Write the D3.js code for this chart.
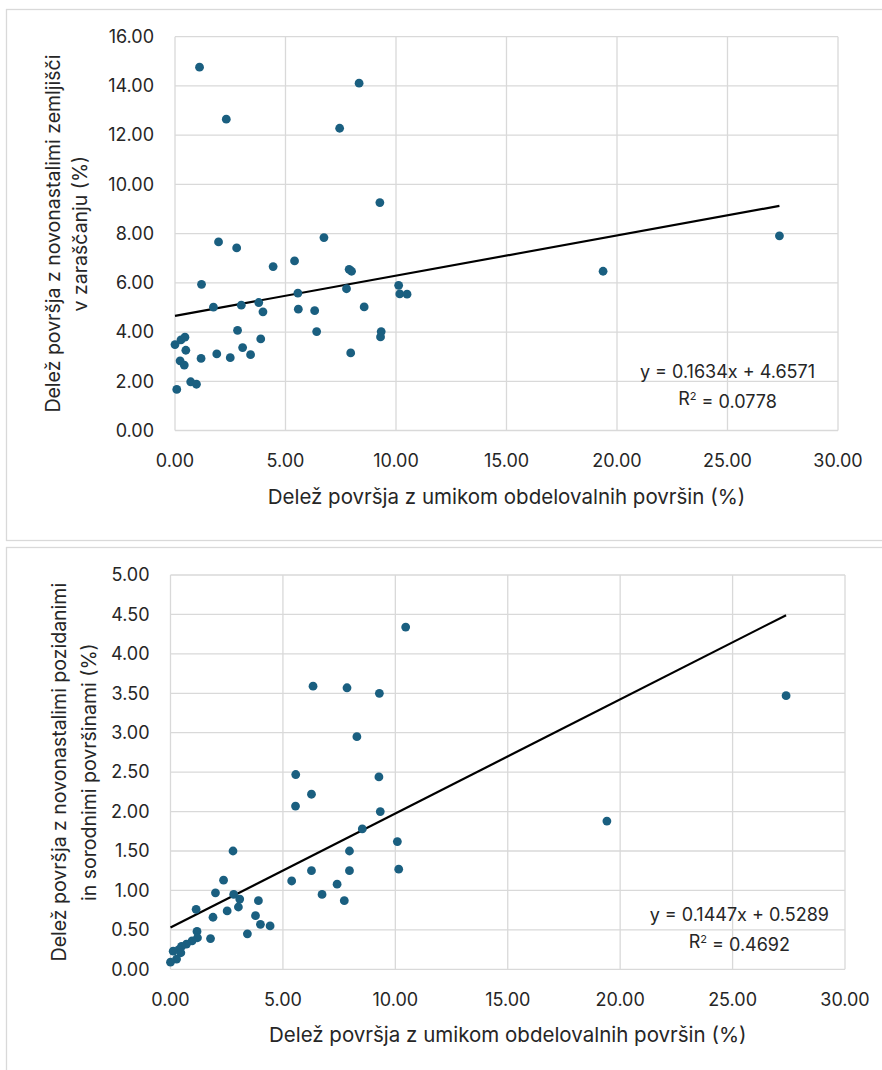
<!DOCTYPE html>
<html>
<head>
<meta charset="utf-8">
<script src="https://cdn.jsdelivr.net/npm/d3@7"></script>
<style>
  body { margin: 0; background: #fff; }
  text { font-family: Inter, "Liberation Sans", Arial, sans-serif; fill: #262626; }
</style>
</head>
<body>
<div id="chart"></div>
<script>
// values
var xTicks = [0, 5, 10, 15, 20, 25, 30];
var xTitle = "Delež površja z umikom obdelovalnih površin (%)";

var topX = [1.11, 2.32, 1.97, 2.79, 4.44, 5.41, 1.20, 1.74, 3.00, 3.79, 3.98, 5.56, 5.58, 6.32, 6.41, 2.83, 3.88, 0.00, 0.27, 0.45, 0.49, 1.18, 1.89, 2.50, 3.06, 3.42, 0.23, 0.42, 0.71, 0.97, 0.08, 8.33, 7.45, 9.27, 6.74, 7.88, 7.99, 7.76, 8.56, 7.95, 10.12, 10.17, 10.50, 9.33, 9.30, 19.37, 27.35];
var topY = [14.76, 12.65, 7.66, 7.42, 6.66, 6.89, 5.94, 5.01, 5.09, 5.20, 4.82, 5.58, 4.93, 4.87, 4.02, 4.07, 3.72, 3.49, 3.68, 3.79, 3.26, 2.93, 3.11, 2.96, 3.37, 3.08, 2.83, 2.66, 1.98, 1.88, 1.67, 14.11, 12.28, 9.26, 7.84, 6.55, 6.47, 5.76, 5.02, 3.15, 5.90, 5.55, 5.54, 4.02, 3.80, 6.47, 7.91];
var topYTicks = [0, 2, 4, 6, 8, 10, 12, 14, 16];
var topYTitle = ["Delež površja z novonastalimi zemljišči", "v zaraščanju (%)"];
var topFit = { slope: 0.1634, intercept: 4.6571, eq: "y = 0.1634x + 4.6571", r2: "0.0778" };

var botX = [6.34, 5.57, 6.27, 5.56, 2.78, 6.27, 5.39, 2.36, 2.00, 2.81, 3.08, 3.02, 3.91, 1.14, 2.52, 1.89, 3.78, 4.00, 4.43, 3.42, 1.18, 1.20, 1.78, 0.96, 0.71, 0.49, 0.37, 0.46, 0.12, 0.27, 0.00, 10.46, 7.85, 9.29, 8.29, 9.27, 9.33, 8.53, 10.09, 7.96, 7.96, 10.15, 7.41, 6.74, 7.73, 19.41, 27.38];
var botY = [3.59, 2.47, 2.22, 2.07, 1.50, 1.25, 1.12, 1.13, 0.97, 0.95, 0.89, 0.79, 0.87, 0.76, 0.74, 0.66, 0.68, 0.57, 0.55, 0.45, 0.48, 0.40, 0.39, 0.36, 0.32, 0.29, 0.25, 0.21, 0.23, 0.13, 0.09, 4.34, 3.57, 3.50, 2.95, 2.44, 2.00, 1.78, 1.62, 1.50, 1.25, 1.27, 1.08, 0.95, 0.87, 1.88, 3.47];
var botYTicks = [0, 0.5, 1, 1.5, 2, 2.5, 3, 3.5, 4, 4.5, 5];
var botYTitle = ["Delež površja z novonastalimi pozidanimi", "in sorodnimi površinami (%)"];
var botFit = { slope: 0.1447, intercept: 0.5289, eq: "y = 0.1447x + 0.5289", r2: "0.4692" };

var width = 882, height = 1070;
var gridColor = "#d9d9d9";
var dotColor = "#1a5f80";

var svg = d3.select("#chart").append("svg")
    .attr("width", width)
    .attr("height", height);

// panel frames
svg.append("rect").attr("x", 6.5).attr("y", 9.5).attr("width", 900).attr("height", 531)
    .attr("fill", "none").attr("stroke", gridColor).attr("stroke-width", 1.3);
svg.append("rect").attr("x", 6.5).attr("y", 547.5).attr("width", 900).attr("height", 600)
    .attr("fill", "none").attr("stroke", gridColor).attr("stroke-width", 1.3);

function drawChart(opt) {
    var x = d3.scaleLinear().domain([0, 30]).range([opt.left, opt.right]);
    var y = d3.scaleLinear().domain([0, d3.max(opt.yTicks)]).range([opt.bottom, opt.top]);
    var g = svg.append("g");

    // grid
    g.selectAll(".vgrid").data(xTicks).enter().append("line")
        .attr("x1", function(d) { return x(d); })
        .attr("x2", function(d) { return x(d); })
        .attr("y1", opt.top).attr("y2", opt.bottom)
        .attr("stroke", gridColor).attr("stroke-width", 1.3);
    g.selectAll(".hgrid").data(opt.yTicks).enter().append("line")
        .attr("x1", opt.left).attr("x2", opt.right)
        .attr("y1", function(d) { return y(d); })
        .attr("y2", function(d) { return y(d); })
        .attr("stroke", gridColor).attr("stroke-width", 1.3);

    // tick labels
    g.selectAll(".xt").data(xTicks).enter().append("text")
        .attr("x", function(d) { return x(d); })
        .attr("y", opt.bottom + 30)
        .attr("dy", "0.35em")
        .attr("text-anchor", "middle")
        .style("font-size", "18px")
        .text(function(d) { return d3.format(".2f")(d); });
    g.selectAll(".yt").data(opt.yTicks).enter().append("text")
        .attr("x", opt.left - 21)
        .attr("y", function(d) { return y(d); })
        .attr("dy", "0.35em")
        .attr("text-anchor", "end")
        .style("font-size", "18px")
        .text(function(d) { return d3.format(".2f")(d); });

    // axis titles
    g.append("text")
        .attr("x", (opt.left + opt.right) / 2)
        .attr("y", opt.bottom + 66)
        .attr("dy", "0.35em")
        .attr("text-anchor", "middle")
        .style("font-size", "20.5px")
        .text(xTitle);
    var cy = (opt.top + opt.bottom) / 2;
    opt.yTitle.forEach(function(line, i) {
        var tx = opt.titleX + i * opt.titleGap;
        g.append("text")
            .attr("transform", "translate(" + tx + "," + cy + ") rotate(-90)")
            .attr("dy", "0.35em")
            .attr("text-anchor", "middle")
            .style("font-size", "19.5px")
            .text(line);
    });

    // trend line over the data range
    var x0 = d3.min(opt.xs), x1 = d3.max(opt.xs);
    g.append("line")
        .attr("x1", x(x0)).attr("y1", y(opt.fit.slope * x0 + opt.fit.intercept))
        .attr("x2", x(x1)).attr("y2", y(opt.fit.slope * x1 + opt.fit.intercept))
        .attr("stroke", "#000").attr("stroke-width", 2.2);

    // points
    g.selectAll(".dot").data(opt.xs).enter().append("circle")
        .attr("cx", function(d) { return x(d); })
        .attr("cy", function(d, i) { return y(opt.ys[i]); })
        .attr("r", 4.4)
        .attr("fill", dotColor);

    // equation label
    var eqX = x(opt.eqAt);
    g.append("text")
        .attr("x", eqX).attr("y", opt.eqY)
        .attr("dy", "0.35em")
        .attr("text-anchor", "middle")
        .style("font-size", "18px")
        .text(opt.fit.eq);
    var r2 = g.append("text")
        .attr("x", eqX).attr("y", opt.eqY + 27)
        .attr("dy", "0.35em")
        .attr("text-anchor", "middle")
        .style("font-size", "18px");
    r2.append("tspan").text("R");
    r2.append("tspan").attr("dy", "-0.45em").style("font-size", "11px").text("2");
    r2.append("tspan").attr("dy", "0.45em").text(" = " + opt.fit.r2);
}

drawChart({
    xs: topX, ys: topY, yTicks: topYTicks, yTitle: topYTitle, fit: topFit,
    left: 175, right: 838, top: 36.7, bottom: 430.5,
    titleX: 53, titleGap: 27, eqY: 372, eqAt: 25.0
});

drawChart({
    xs: botX, ys: botY, yTicks: botYTicks, yTitle: botYTitle, fit: botFit,
    left: 170.5, right: 845, top: 575, bottom: 969.3,
    titleX: 59, titleGap: 30, eqY: 915, eqAt: 25.3
});
</script>
</body>
</html>
